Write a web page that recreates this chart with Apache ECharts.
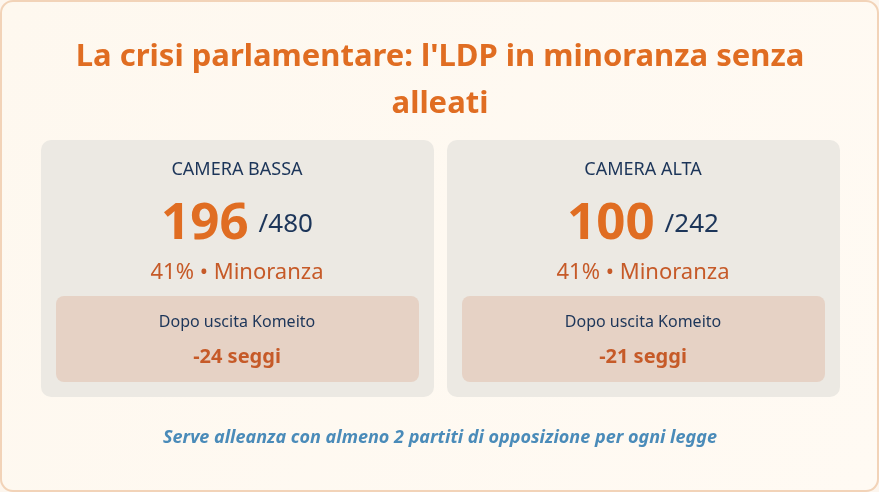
<!DOCTYPE html>
<html>
<head>
<meta charset="utf-8">
<script src="https://cdn.jsdelivr.net/npm/echarts@6/dist/echarts.min.js"></script>
<style>
  html, body { margin: 0; padding: 0; background: #fdf6ee; }
  #chart { width: 879px; height: 492px; }
</style>
</head>
<body>
<div id="chart"></div>
<script>
// data
const titleLines = ["La crisi parlamentare: l'LDP in minoranza senza", "alleati"];
const chambers = ["CAMERA BASSA", "CAMERA ALTA"];
const seats = [196, 100];
const totals = [480, 242];
const shares = [41, 41];
const statusLabel = "Minoranza";
const lossLabel = "Dopo uscita Komeito";
const losses = [-24, -21];
const footer = "Serve alleanza con almeno 2 partiti di opposizione per ogni legge";

const FONT = "Noto Sans";
const ORANGE = "#e06d22";
const RUST = "#c65a28";
const NAVY = "#1c3559";

const chart = echarts.init(document.getElementById("chart"), null, { renderer: "canvas" });

const elements = [];

// page frame
elements.push({
  type: "rect",
  shape: { x: 1, y: 1, width: 877, height: 490, r: 12 },
  style: {
    fill: new echarts.graphic.LinearGradient(0, 0, 1, 1, [
      { offset: 0, color: "#fef8ef" },
      { offset: 1, color: "#fffaf3" }
    ]),
    stroke: "#f2d3b8",
    lineWidth: 2
  }
});

// title
titleLines.forEach((line, i) => {
  elements.push({
    type: "text",
    x: 440, y: 57 + i * 47,
    style: {
      text: line, fill: ORANGE, font: "bold 31px '" + FONT + "'",
      align: "center", verticalAlign: "middle"
    }
  });
});

// cards
chambers.forEach((name, i) => {
  const x0 = 41 + i * 406;
  const cx = x0 + 196;
  elements.push({
    type: "rect",
    shape: { x: x0, y: 140, width: 393, height: 257, r: 10 },
    style: { fill: "#ece9e3" }
  });
  elements.push({
    type: "text", x: cx, y: 170,
    style: { text: name, fill: NAVY, font: "18px '" + FONT + "'", align: "center", verticalAlign: "middle" }
  });
  elements.push({
    type: "text", x: cx, y: 221,
    style: {
      text: "{n|" + seats[i] + "}{d|/" + totals[i] + "}",
      align: "center", verticalAlign: "middle",
      rich: {
        n: { fill: ORANGE, font: "bold 51px '" + FONT + "'", lineHeight: 58, verticalAlign: "bottom" },
        d: { fill: NAVY, font: "26px '" + FONT + "'", lineHeight: 58, padding: [0, 0, 12, 10], verticalAlign: "bottom" }
      }
    }
  });
  elements.push({
    type: "text", x: cx, y: 273,
    style: {
      text: shares[i] + "% • " + statusLabel, fill: RUST, font: "22px '" + FONT + "'",
      align: "center", verticalAlign: "middle"
    }
  });
  elements.push({
    type: "rect",
    shape: { x: x0 + 15, y: 296, width: 363, height: 86, r: 8 },
    style: { fill: "#e6d2c5" }
  });
  elements.push({
    type: "text", x: cx, y: 322,
    style: { text: lossLabel, fill: NAVY, font: "16px '" + FONT + "'", align: "center", verticalAlign: "middle" }
  });
  elements.push({
    type: "text", x: cx, y: 357,
    style: {
      text: losses[i] + " seggi", fill: RUST, font: "bold 20px '" + FONT + "'",
      align: "center", verticalAlign: "middle"
    }
  });
});

// footer
elements.push({
  type: "text", x: 440, y: 438,
  style: {
    text: footer, fill: "#4a8bb9", font: "italic bold 18px '" + FONT + "'",
    align: "center", verticalAlign: "middle"
  }
});

chart.setOption({
  animation: false,
  backgroundColor: "#fdf6ee",
  graphic: { elements: elements }
});
</script>
</body>
</html>
